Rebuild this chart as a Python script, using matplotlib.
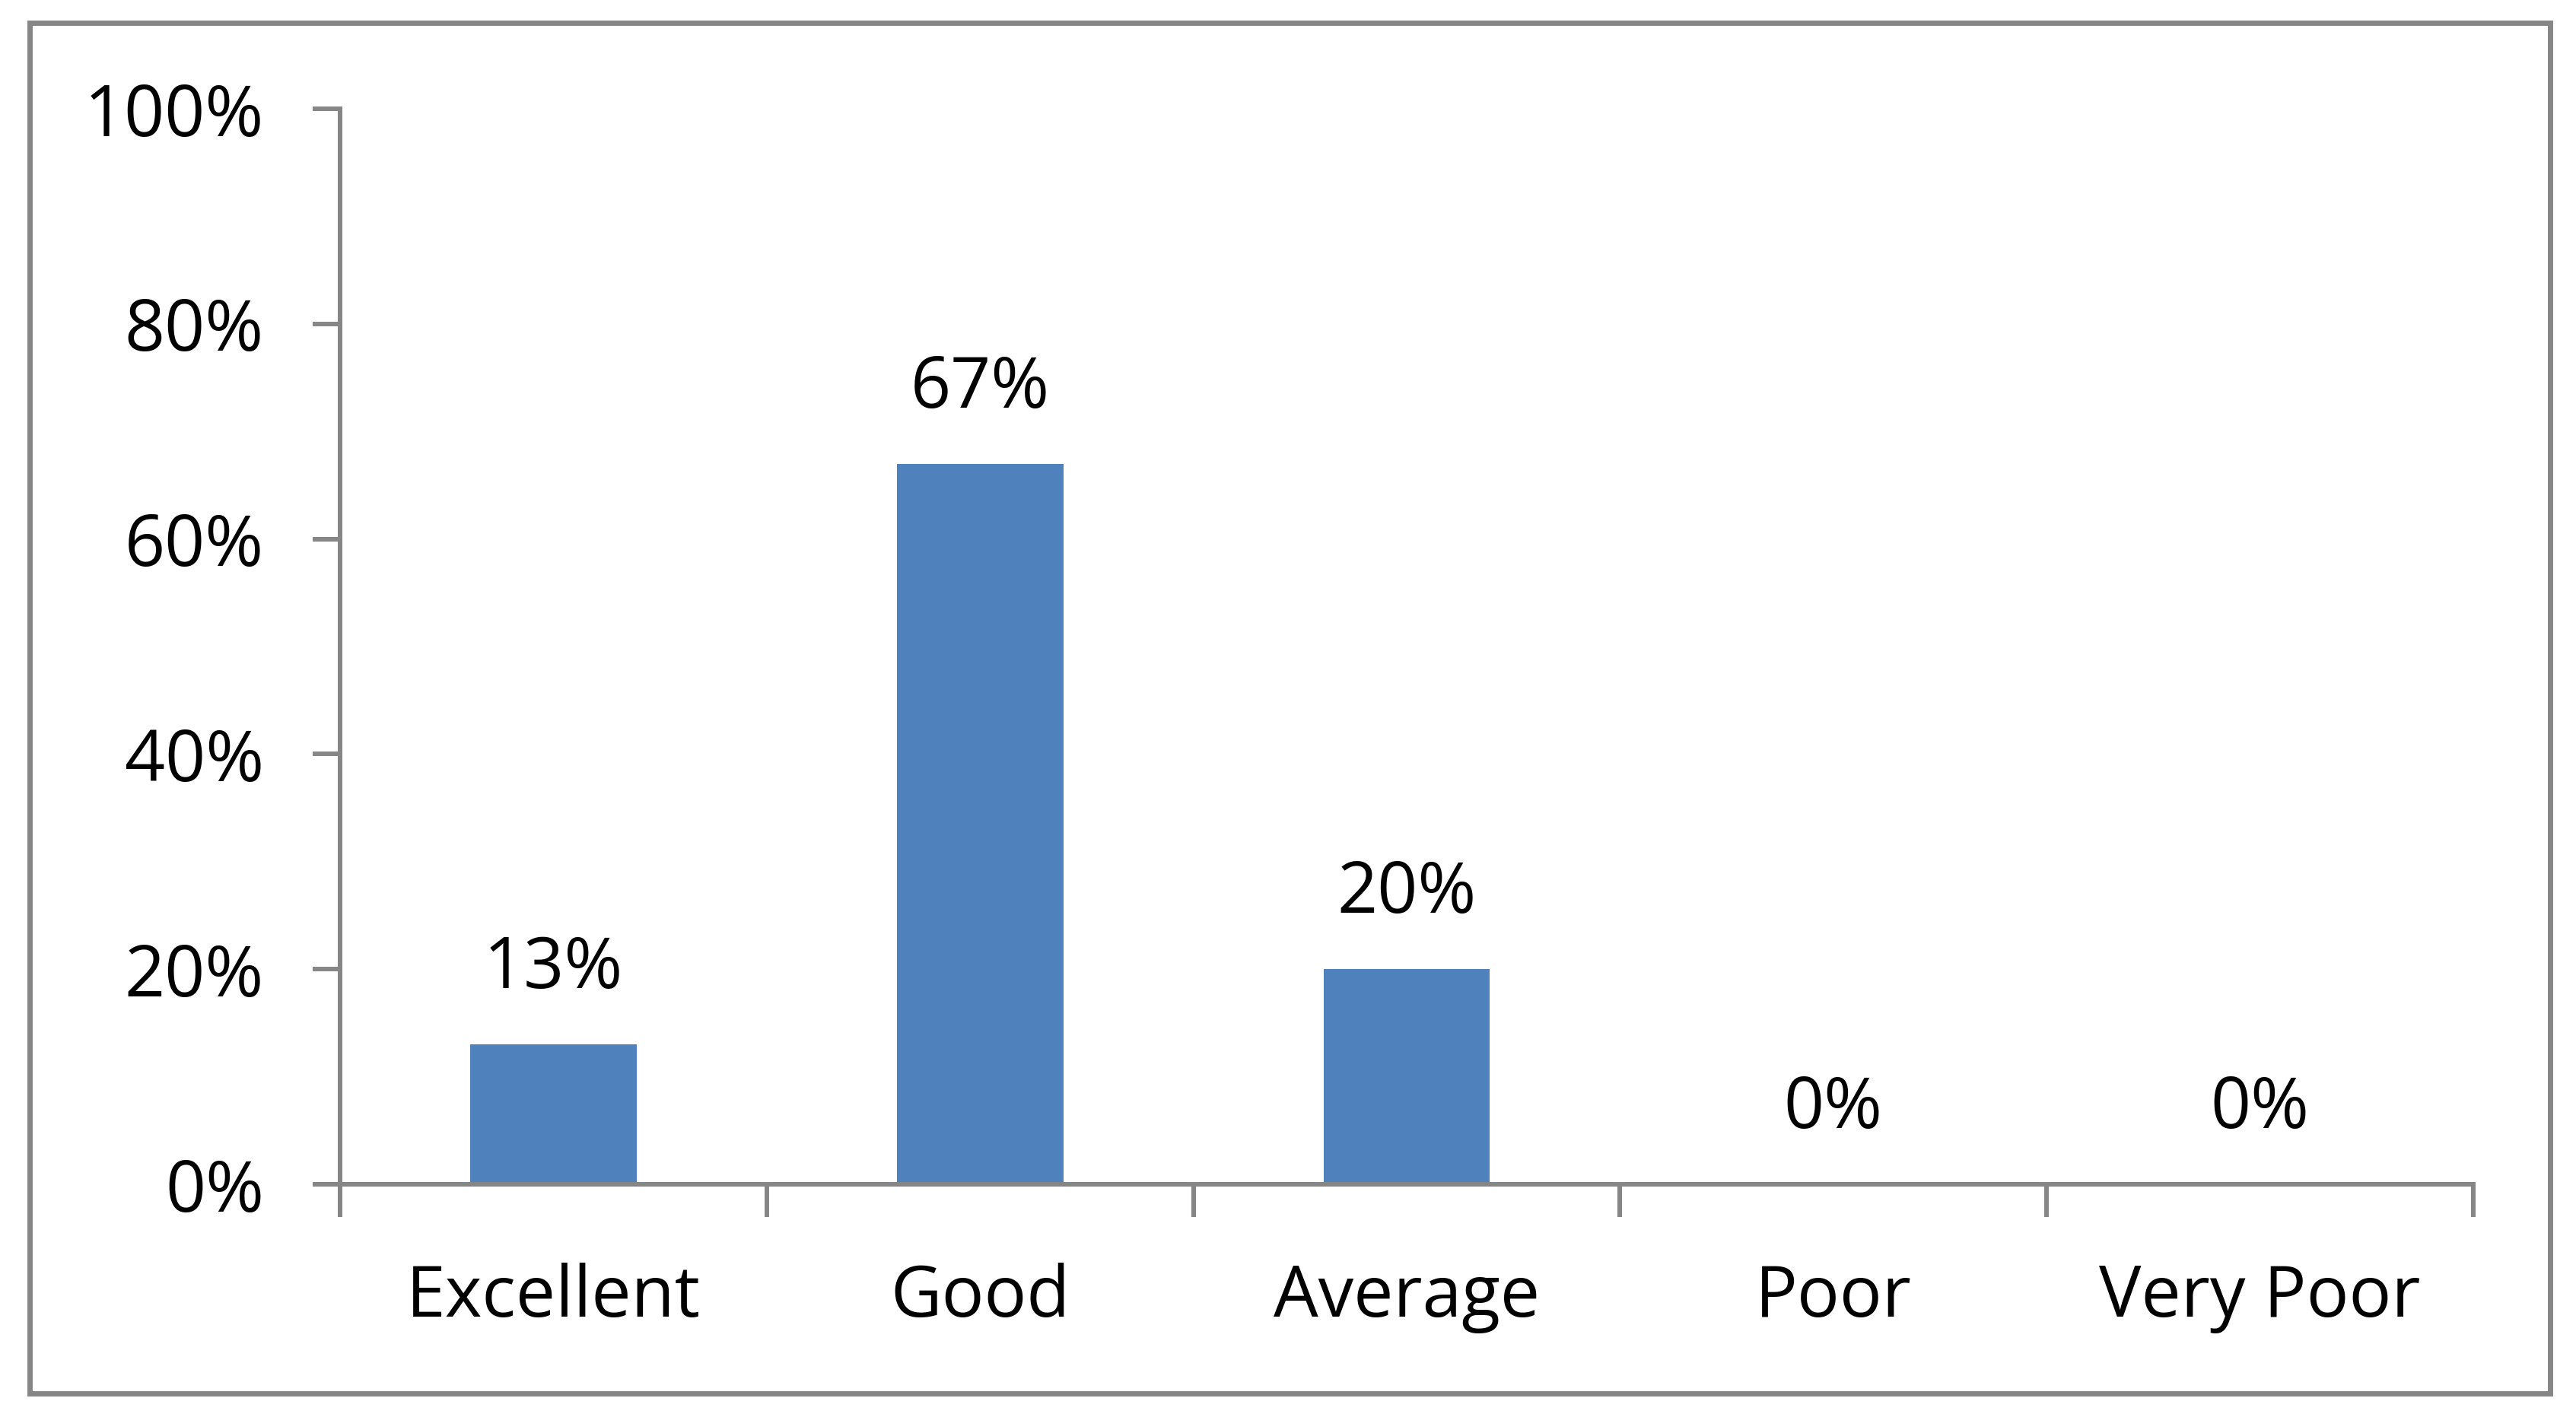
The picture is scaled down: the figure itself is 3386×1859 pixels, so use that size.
import matplotlib
matplotlib.use("Agg")
import matplotlib.pyplot as plt
from matplotlib.patches import Rectangle

categories = ["Excellent", "Good", "Average", "Poor", "Very Poor"]
values = [13, 67, 20, 0, 0]
yticks = [0, 20, 40, 60, 80, 100]
ytick_labels = ["0%", "20%", "40%", "60%", "80%", "100%"]

W, H, DPI = 3387, 1859, 100
plt.rcParams['font.family'] = ['Open Sans', 'DejaVu Sans']
fig = plt.figure(figsize=(W / DPI, H / DPI), dpi=DPI)
gray = "#868686"

# outer border
fig.patches.append(Rectangle((39 / W, 1 - 1832 / H), (3352 - 39) / W, (1832 - 30) / H,
                             transform=fig.transFigure, fill=False, edgecolor=gray, linewidth=5))

ax = fig.add_axes([447 / W, 1 - 1557 / H, (3251 - 447) / W, (1557 - 143) / H])
x = list(range(len(categories)))
ax.bar(x, values, width=0.39, color="#4F81BD", zorder=2)
ax.set_xlim(-0.5, 4.5)
ax.set_ylim(0, 100)

FS = 67
for xi, v in zip(x, values):
    ax.annotate(f"{v}%", (xi, v), xytext=(0, 71), textcoords="offset points",
                ha="center", va="center", fontsize=FS, color="black")

ax.set_yticks(yticks)
ax.set_yticklabels(ytick_labels, fontsize=FS)
ax.set_xticks(x)
ax.set_xticklabels(categories, fontsize=FS)
ax.set_xticks([i - 0.5 for i in range(len(categories) + 1)], minor=True)
ax.tick_params(axis="x", which="major", length=0, pad=74)
ax.tick_params(axis="x", which="minor", length=31, width=4.3, color=gray, direction="out")
ax.tick_params(axis="y", which="major", length=26, width=4.3, color=gray, pad=46)

for s in ["top", "right"]:
    ax.spines[s].set_visible(False)
for s in ["left", "bottom"]:
    ax.spines[s].set_color(gray)
    ax.spines[s].set_linewidth(4.3)

fig.savefig("out.png", dpi=DPI, facecolor="white")
